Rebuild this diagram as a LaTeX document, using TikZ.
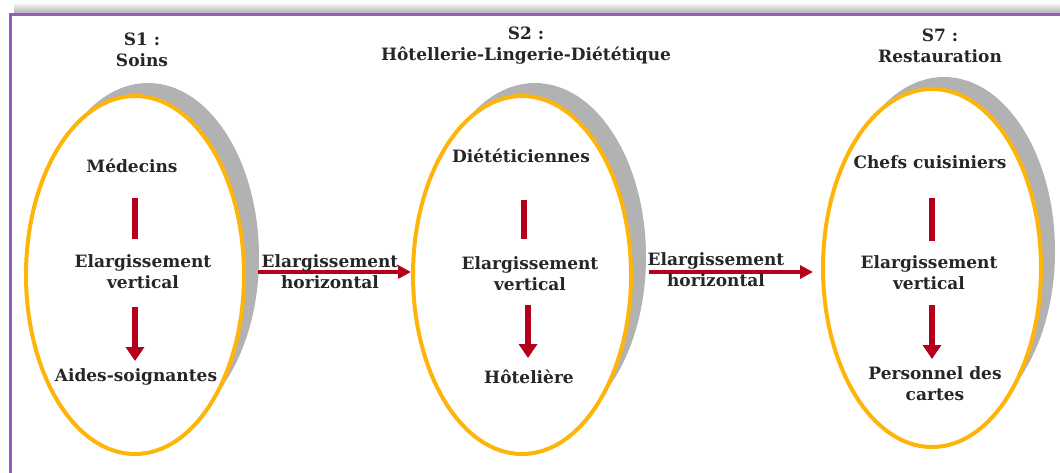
\documentclass[tikz,border=0pt]{standalone}
\usepackage{fontspec}
\setmainfont{DejaVu Serif}
\usetikzlibrary{shapes.geometric,arrows.meta}
\definecolor{framepurple}{RGB}{150,90,195}
\definecolor{ringyellow}{RGB}{255,180,10}
\definecolor{shadowgray}{RGB}{178,178,178}
\definecolor{arrowred}{RGB}{180,0,24}
\tikzset{
  txt/.style={font=\bfseries\fontsize{17pt}{21pt}\selectfont, align=center, text=black!85, inner sep=0pt},
  ring/.style={ellipse, draw=ringyellow, line width=4pt, fill=white, minimum width=218pt, minimum height=358pt, inner sep=0pt},
  ringshadow/.style={ellipse, fill=shadowgray, minimum width=222pt, minimum height=348pt, inner sep=0pt},
  vbar/.style={draw=arrowred, line width=6pt},
  varrow/.style={draw=arrowred, line width=6pt, -{Triangle[width=18pt,length=14pt]}},
  harrow/.style={draw=arrowred, line width=4pt, -{Triangle[width=13pt,length=13pt]}}
}
\begin{document}
\begin{tikzpicture}[x=1pt,y=-1pt]
\useasboundingbox (0,0) rectangle (1060,472);
% frame with top shadow
\shade[top color=white, bottom color=black!30] (14,2) rectangle (1060,13);
\draw[framepurple, line width=3pt] (10.5,473) -- (10.5,14.5) -- (1061,14.5);

% ellipses
\node[ringshadow] (sh1) at (148,257) {};
\node[ring] (e1) at (135,275) {};
\node[ringshadow] (sh2) at (535,257) {};
\node[ring] (e2) at (522,275) {};
\node[ringshadow] (sh3) at (944,251) {};
\node[ring] (e3) at (932,268) {};

% titles
\node[txt] (t1) at (142,50) {S1 :\\Soins};
\node[txt] (t2) at (526,46) {S2 :\\Hôtellerie-Lingerie-Diététique};
\node[txt] (t3) at (940,46) {S7 :\\Restauration};

% S1 contents
\node[txt] (med) at (132,166) {Médecins};
\coordinate (b1a) at (135,198);
\coordinate (b1b) at (135,239);
\draw[vbar] (b1a) -- (b1b);
\node[txt] (ev1) at (143,272) {Elargissement\\vertical};
\coordinate (a1a) at (135,307);
\coordinate (a1b) at (135,361);
\draw[varrow] (a1a) -- (a1b);
\node[txt] (aides) at (136,377) {Aides-soignantes};

% S2 contents
\node[txt] (diet) at (521,156) {Diététiciennes};
\coordinate (b2a) at (524,200);
\coordinate (b2b) at (524,239);
\draw[vbar] (b2a) -- (b2b);
\node[txt] (ev2) at (530,274) {Elargissement\\vertical};
\coordinate (a2a) at (528,305);
\coordinate (a2b) at (528,358);
\draw[varrow] (a2a) -- (a2b);
\node[txt] (hot) at (529,377) {Hôtelière};

% S7 contents
\node[txt] (chefs) at (930,162) {Chefs cuisiniers};
\coordinate (b3a) at (932,198);
\coordinate (b3b) at (932,241);
\draw[vbar] (b3a) -- (b3b);
\node[txt] (ev3) at (929,273) {Elargissement\\vertical};
\coordinate (a3a) at (932,305);
\coordinate (a3b) at (932,359);
\draw[varrow] (a3a) -- (a3b);
\node[txt] (pers) at (935,384) {Personnel des\\cartes};

% horizontal arrows
\coordinate (h1s) at (258,272);
\coordinate (h1e) at (411,272);
\draw[harrow] (h1s) -- (h1e);
\node[txt] (hl1) at (330,272) {Elargissement\\horizontal};
\coordinate (h2s) at (649,272);
\coordinate (h2e) at (813,272);
\draw[harrow] (h2s) -- (h2e);
\node[txt] (hl2) at (716,270) {Elargissement\\horizontal};
\end{tikzpicture}
\end{document}
